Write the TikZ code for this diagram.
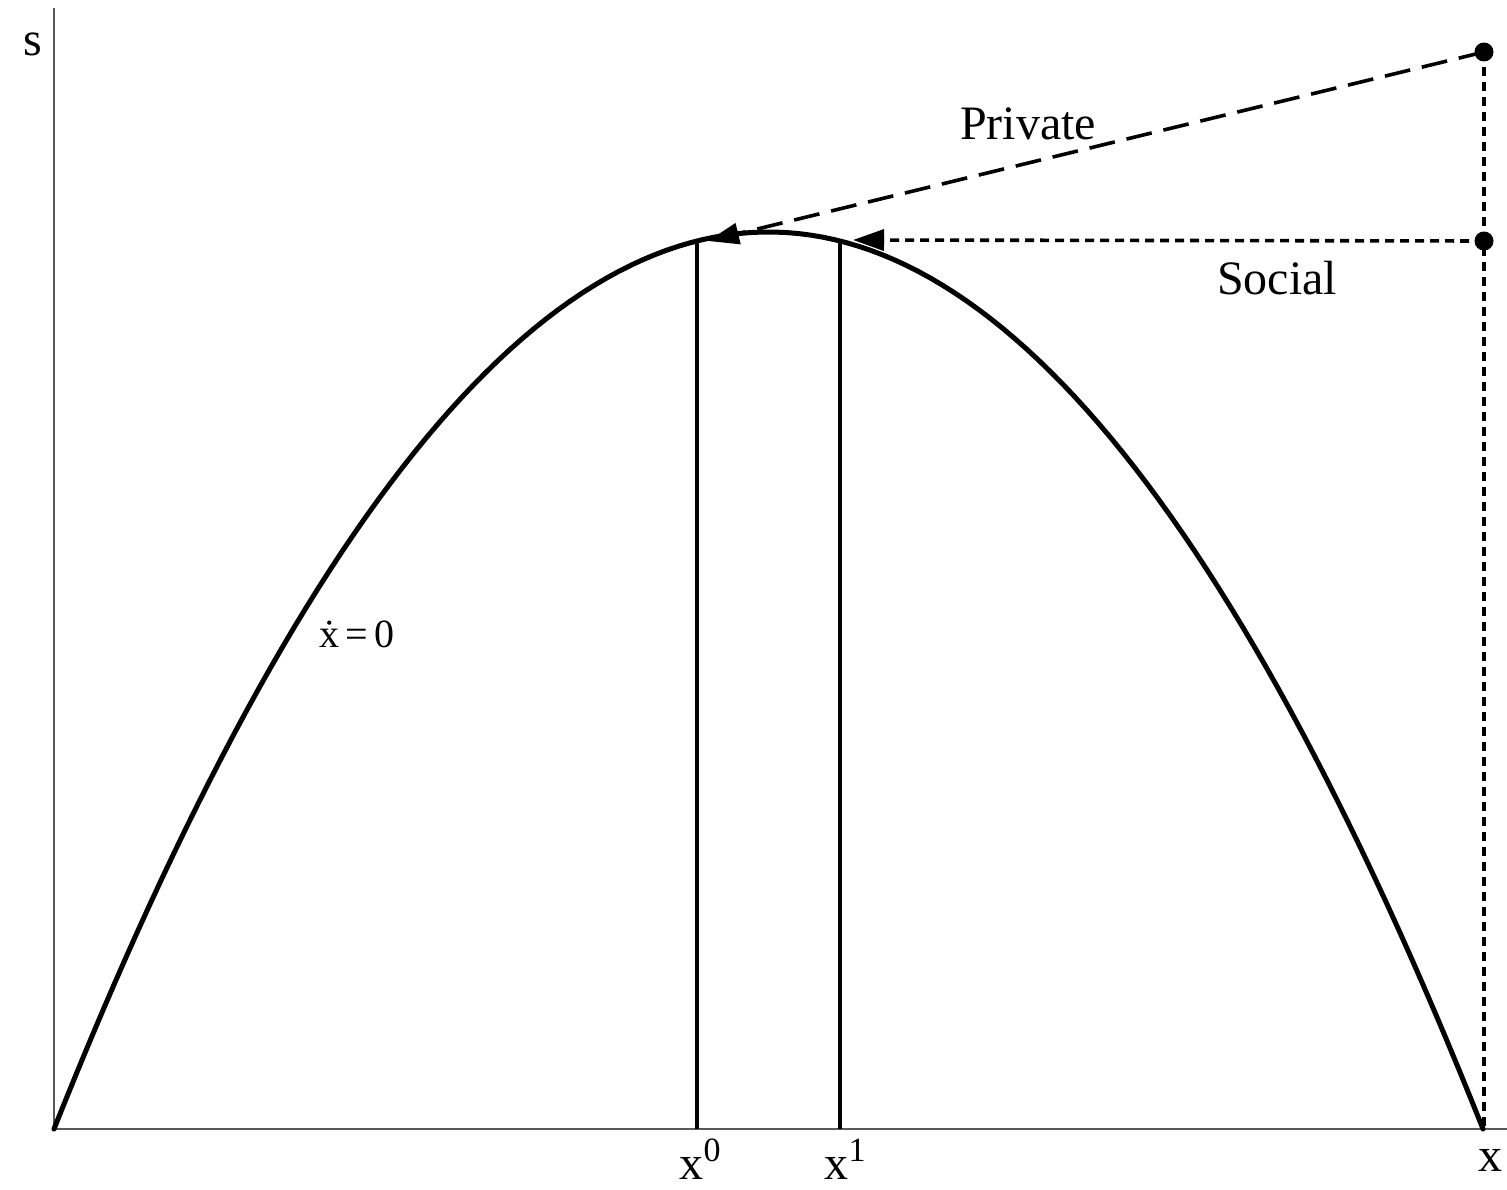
\documentclass[tikz,border=0pt]{standalone}
\usepackage{fontspec}
\setmainfont{Liberation Serif}
\usetikzlibrary{arrows.meta}
\tikzset{
  axis/.style={line width=1.6pt, draw=black!65},
  curve/.style={line width=5pt},
  vline/.style={line width=3.4pt},
  priv/.style={line width=3.6pt, dash pattern=on 26pt off 12pt, -{Triangle[length=31pt,width=21pt]}},
  soc/.style={line width=3.6pt, dash pattern=on 9pt off 6pt, -{Triangle[length=31pt,width=21pt]}},
  vdot/.style={line width=3.6pt, dash pattern=on 9pt off 6pt},
  dotn/.style={circle, fill=black, inner sep=0pt, minimum size=19pt},
  lab/.style={font=\fontsize{48}{48}\selectfont, inner sep=0pt},
}
\begin{document}
\begin{tikzpicture}[x=1pt,y=-1pt]
\useasboundingbox (0,0) rectangle (1507,1190);
% axes
\coordinate (O) at (54,1129);
\coordinate (Ytop) at (54,8);
\coordinate (Xend) at (1507,1129);
\draw[axis] (Ytop) -- (O) -- (Xend);
% parabola
\draw[curve, line cap=round, domain=54:1483, samples=120] plot (\x, {1129 - 897*(1 - ((\x-768.5)/714.5)^2)});
% vertical lines
\coordinate (c0) at (697,241);
\coordinate (c1) at (840,241);
\coordinate (b0) at (697,1129);
\coordinate (b1) at (840,1129);
\draw[vline] (c0) -- (b0);
\draw[vline] (c1) -- (b1);
% dots
\node[dotn] (p1) at (1484,52) {};
\node[dotn] (p2) at (1484,241) {};
\coordinate (xe) at (1484,1129);
\draw[vdot] (p1.center) -- (p2.center) -- (xe);
% arrows
\coordinate (t0) at (708,241);
\coordinate (t1) at (853,240);
\draw[priv] (p1.center) -- (t0);
\draw[soc] (p2.center) -- (t1);
% labels
\node[lab] (ls) at (33,44) {s};
\node[lab] (lx) at (1490,1160) {x};
\node[lab, anchor=base] (lx0) at (700,1179) {x\raisebox{18pt}{\fontsize{34}{34}\selectfont 0}};
\node[lab, anchor=base] (lx1) at (845,1179) {x\raisebox{18pt}{\fontsize{34}{34}\selectfont 1}};
\node[lab] (lp) at (1028,124) {Private};
\node[lab] (lsoc) at (1277,278) {Social};
\node[inner sep=0pt, font=\fontsize{40}{40}\selectfont] (le) at (357,634) {\.{x}\,=\,0};
\end{tikzpicture}
\end{document}
